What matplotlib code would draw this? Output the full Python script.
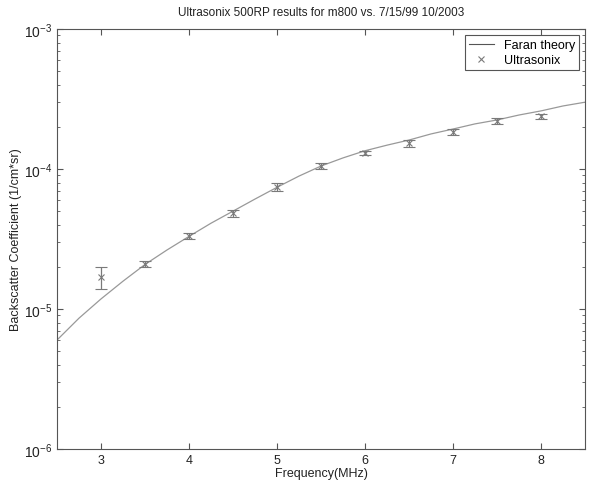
import matplotlib
matplotlib.use("Agg")
import matplotlib.pyplot as plt
from matplotlib.lines import Line2D
from matplotlib.ticker import LogLocator, FixedLocator, NullFormatter

plt.rcParams['font.family'] = ['Liberation Sans', 'DejaVu Sans']

# Faran theory curve
freq_theory = [2.5, 2.75, 3.0, 3.25, 3.5, 3.75, 4.0, 4.25, 4.5, 4.75, 5.0, 5.25,
               5.5, 5.75, 6.0, 6.25, 6.5, 6.75, 7.0, 7.25, 7.5, 7.75, 8.0, 8.25, 8.5]
bsc_theory = [6.0e-6, 8.6e-6, 1.18e-5, 1.58e-5, 2.08e-5, 2.64e-5, 3.3e-5, 4.1e-5,
              5.0e-5, 6.1e-5, 7.4e-5, 8.9e-5, 1.05e-4, 1.2e-4, 1.35e-4, 1.48e-4,
              1.61e-4, 1.78e-4, 1.93e-4, 2.1e-4, 2.24e-4, 2.43e-4, 2.6e-4, 2.82e-4,
              3.0e-4]

# Ultrasonix measurements
freq_meas = [3.0, 3.5, 4.0, 4.5, 5.0, 5.5, 6.0, 6.5, 7.0, 7.5, 8.0]
bsc_meas = [1.69e-5, 2.1e-5, 3.32e-5, 4.85e-5, 7.44e-5, 1.05e-4, 1.30e-4,
            1.53e-4, 1.84e-4, 2.20e-4, 2.39e-4]
bsc_err = [3.1e-6, 1.0e-6, 1.8e-6, 2.8e-6, 4.5e-6, 5e-6, 5e-6, 9e-6, 9e-6,
           1.1e-5, 1.0e-5]

grey = '#7a7a7a'
axcol = '#555555'
txt = '#222222'

fig = plt.figure(figsize=(5.93, 4.85), dpi=100)
ax = fig.add_axes([57/593, 1 - 450/485, (585 - 57)/593, (450 - 30)/485])

ax.plot(freq_theory, bsc_theory, color='#999999', lw=0.9)
ax.errorbar(freq_meas, bsc_meas, yerr=bsc_err, fmt='x', color=grey, ms=4,
            mew=0.8, elinewidth=0.9, capsize=4, capthick=0.9)

ax.set_yscale('log')
ax.set_xlim(2.5, 8.5)
ax.set_ylim(1e-6, 1e-3)
ax.xaxis.set_major_locator(FixedLocator([3, 4, 5, 6, 7, 8]))
ax.yaxis.set_major_locator(LogLocator(base=10, numticks=10))
ax.yaxis.set_minor_locator(LogLocator(base=10, subs=range(2, 10), numticks=10))
ax.yaxis.set_minor_formatter(NullFormatter())

ax.tick_params(which='both', direction='in', top=True, right=True,
               color=axcol, labelcolor=txt)
ax.tick_params(axis='x', labelsize=9)
ax.tick_params(axis='y', labelsize=10)
ax.tick_params(which='major', length=4)
ax.tick_params(which='minor', length=2.5)
for s in ax.spines.values():
    s.set_color(axcol)
    s.set_linewidth(0.8)

ax.set_title('Ultrasonix 500RP results for m800 vs. 7/15/99 10/2003',
             fontsize=8.5, pad=10, color=txt)
ax.set_xlabel('Frequency(MHz)', fontsize=9, labelpad=1, color=txt)
ax.set_ylabel('Backscatter Coefficient (1/cm*sr)', fontsize=9, labelpad=1,
              color=txt)

handles = [Line2D([], [], color='#555555', lw=0.8),
           Line2D([], [], color=grey, marker='x', ls='none', ms=4, mew=0.8)]
leg = ax.legend(handles, ['Faran theory', 'Ultrasonix'], loc='upper right',
                fontsize=9, fancybox=False, framealpha=1, edgecolor=axcol,
                borderaxespad=0.5, handlelength=2.0, handletextpad=0.8,
                borderpad=0.3, labelspacing=0.25)
leg.get_frame().set_linewidth(0.8)

fig.savefig('out.png', dpi=100)
